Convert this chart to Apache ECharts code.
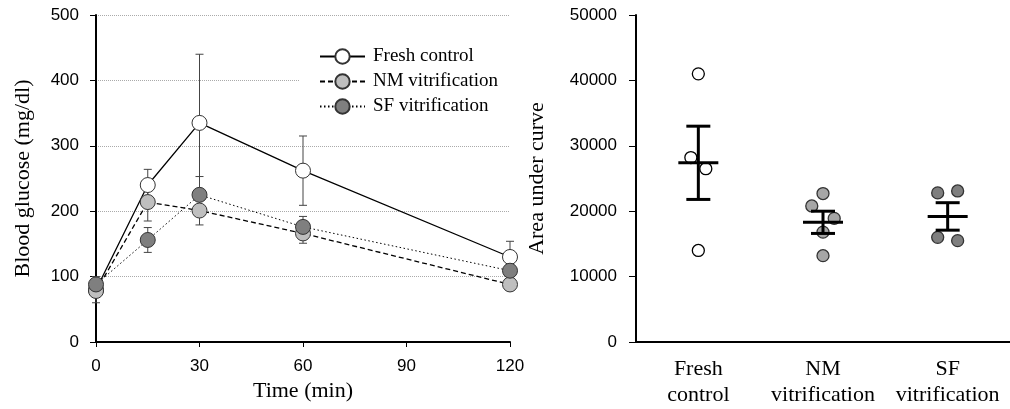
<!DOCTYPE html>
<html>
<head>
<meta charset="utf-8">
<script src="https://cdn.jsdelivr.net/npm/echarts@6/dist/echarts.min.js"></script>
<style>
  html, body { margin: 0; padding: 0; background: #fff; }
  #main { width: 1010px; height: 409px; }
</style>
</head>
<body>
<div id="main"></div>
<script>
// 左图: 血糖曲线
const times = [0, 15, 30, 60, 120];
const freshMean = [80, 240, 335, 262, 130];
const freshErr = [20, 24, 105, 53, 24];
const nmMean = [78, 214, 201, 166, 88];
const nmErr = [8, 29, 22, 15, 6];
const sfMean = [88, 156, 225, 176, 109];
const sfErr = [8, 19, 28, 16, 8];
const seriesNames = ['Fresh control', 'NM vitrification', 'SF vitrification'];

// 右图: 曲线下面积
const groups = ['Fresh\ncontrol', 'NM\nvitrification', 'SF\nvitrification'];
const freshAuc = [[0.5, 41000], [0.44, 28200], [0.56, 26500], [0.5, 14000]];
const nmAuc = [[1.5, 22700], [1.41, 20800], [1.59, 18900], [1.5, 16800], [1.5, 13200]];
const sfAuc = [[2.42, 22800], [2.58, 23100], [2.42, 16000], [2.58, 15500]];
const aucMean = [27400, 18300, 19200];
const aucSe = [5600, 1700, 2100];

const serif = '"Liberation Serif", "Times New Roman", serif';
const sans = '"Liberation Sans", Arial, sans-serif';

let myChart = echarts.init(document.getElementById('main'));

function errData(mean, err) {
    return times.map((t, i) => [t, mean[i] - err[i], mean[i] + err[i]]);
}

// 误差线
function renderErr(params, api) {
    let x = api.value(0);
    let lo = api.coord([x, api.value(1)]);
    let hi = api.coord([x, api.value(2)]);
    let w = 4;
    let style = { stroke: '#444', lineWidth: 1 };
    return {
        type: 'group',
        children: [
            { type: 'line', shape: { x1: lo[0], y1: lo[1], x2: hi[0], y2: hi[1] }, style: style },
            { type: 'line', shape: { x1: lo[0] - w, y1: lo[1], x2: lo[0] + w, y2: lo[1] }, style: style },
            { type: 'line', shape: { x1: hi[0] - w, y1: hi[1], x2: hi[0] + w, y2: hi[1] }, style: style }
        ]
    };
}

// 均值 ± SE
function renderMean(params, api) {
    let x = api.value(0);
    let m = api.coord([x, api.value(1)]);
    let lo = api.coord([x, api.value(1) - api.value(2)]);
    let hi = api.coord([x, api.value(1) + api.value(2)]);
    let style = { stroke: '#000', lineWidth: 3 };
    return {
        type: 'group',
        children: [
            { type: 'line', shape: { x1: m[0] - 20, y1: m[1], x2: m[0] + 20, y2: m[1] }, style: style },
            { type: 'line', shape: { x1: lo[0], y1: lo[1], x2: hi[0], y2: hi[1] }, style: style },
            { type: 'line', shape: { x1: lo[0] - 12, y1: lo[1], x2: lo[0] + 12, y2: lo[1] }, style: style },
            { type: 'line', shape: { x1: hi[0] - 12, y1: hi[1], x2: hi[0] + 12, y2: hi[1] }, style: style }
        ]
    };
}

function pts(mean) {
    return times.map((t, i) => [t, mean[i]]);
}

let option = {
    animation: false,
    backgroundColor: '#fff',
    legend: {
        left: 299,
        top: 45,
        orient: 'vertical',
        itemWidth: 45,
        itemHeight: 18,
        itemGap: 6,
        backgroundColor: '#fff',
        padding: [2, 30, 2, 20],
        textStyle: { fontFamily: serif, fontSize: 19, color: '#000', padding: [0, 0, 0, 3] },
        data: seriesNames
    },
    grid: [
        { left: 96, top: 15, width: 414, height: 327 },
        { left: 636, top: 15, width: 380, height: 327 }
    ],
    xAxis: [
        {
            gridIndex: 0,
            type: 'value',
            min: 0, max: 120, interval: 30,
            name: 'Time (min)',
            nameLocation: 'middle',
            nameGap: 34,
            nameTextStyle: { fontFamily: serif, fontSize: 22, color: '#000' },
            axisLine: { lineStyle: { color: '#000', width: 2 } },
            axisTick: { show: true, length: 5, lineStyle: { color: '#000', width: 1 } },
            axisLabel: { fontFamily: sans, fontSize: 17, color: '#000', margin: 16 },
            splitLine: { show: false }
        },
        {
            gridIndex: 1,
            type: 'category',
            data: groups,
            axisLine: { lineStyle: { color: '#000', width: 2 } },
            axisTick: { show: false },
            axisLabel: { interval: 0, fontFamily: serif, fontSize: 22, color: '#000', margin: 14, lineHeight: 26 }
        },
        {
            gridIndex: 1,
            type: 'value',
            min: 0, max: 3,
            show: false
        }
    ],
    yAxis: [
        {
            gridIndex: 0,
            type: 'value',
            min: 0, max: 500, interval: 100,
            name: 'Blood glucose (mg/dl)',
            nameLocation: 'middle',
            nameGap: 62,
            nameTextStyle: { fontFamily: serif, fontSize: 22, color: '#000' },
            axisLine: { show: true, lineStyle: { color: '#000', width: 2 } },
            axisTick: { show: true, length: 6, lineStyle: { color: '#000', width: 1 } },
            axisLabel: { fontFamily: sans, fontSize: 17, color: '#000', margin: 17 },
            splitLine: { show: true, lineStyle: { color: '#aaa', width: 1, type: 'dotted' } }
        },
        {
            gridIndex: 1,
            type: 'value',
            min: 0, max: 50000, interval: 10000,
            name: 'Area under curve',
            nameLocation: 'middle',
            nameGap: 88,
            nameTextStyle: { fontFamily: serif, fontSize: 22, color: '#000' },
            axisLine: { show: true, lineStyle: { color: '#000', width: 2 } },
            axisTick: { show: true, length: 7, lineStyle: { color: '#000', width: 1 } },
            axisLabel: {
                fontFamily: sans, fontSize: 17, color: '#000', margin: 19,
                formatter: function(value) {
                    return String(value);
                }
            },
            splitLine: { show: false }
        }
    ],
    series: [
        {
            type: 'custom', xAxisIndex: 0, yAxisIndex: 0, z: 1,
            renderItem: renderErr, data: errData(freshMean, freshErr)
        },
        {
            type: 'custom', xAxisIndex: 0, yAxisIndex: 0, z: 1,
            renderItem: renderErr, data: errData(nmMean, nmErr)
        },
        {
            type: 'custom', xAxisIndex: 0, yAxisIndex: 0, z: 1,
            renderItem: renderErr, data: errData(sfMean, sfErr)
        },
        {
            name: seriesNames[0],
            type: 'line', xAxisIndex: 0, yAxisIndex: 0, z: 3,
            data: pts(freshMean),
            symbol: 'circle', symbolSize: 15,
            lineStyle: { color: '#000', width: 1.3, type: 'solid' },
            itemStyle: { color: '#fff', borderColor: '#333', borderWidth: 1 }
        },
        {
            name: seriesNames[1],
            type: 'line', xAxisIndex: 0, yAxisIndex: 0, z: 3,
            data: pts(nmMean),
            symbol: 'circle', symbolSize: 15,
            lineStyle: { color: '#000', width: 1.3, type: [5, 3] },
            itemStyle: { color: '#bfbfbf', borderColor: '#333', borderWidth: 1 }
        },
        {
            name: seriesNames[2],
            type: 'line', xAxisIndex: 0, yAxisIndex: 0, z: 3,
            data: pts(sfMean),
            symbol: 'circle', symbolSize: 15,
            lineStyle: { color: '#000', width: 1, type: [1.5, 2.5] },
            itemStyle: { color: '#7f7f7f', borderColor: '#333', borderWidth: 1 }
        },
        {
            type: 'scatter', xAxisIndex: 2, yAxisIndex: 1, z: 2,
            data: freshAuc, symbolSize: 12,
            itemStyle: { color: '#fff', borderColor: '#000', borderWidth: 1.3, opacity: 1 }
        },
        {
            type: 'scatter', xAxisIndex: 2, yAxisIndex: 1, z: 2,
            data: nmAuc, symbolSize: 12,
            itemStyle: { color: '#a6a6a6', borderColor: '#333', borderWidth: 1.3, opacity: 1 }
        },
        {
            type: 'scatter', xAxisIndex: 2, yAxisIndex: 1, z: 2,
            data: sfAuc, symbolSize: 12,
            itemStyle: { color: '#7f7f7f', borderColor: '#333', borderWidth: 1.3, opacity: 1 }
        },
        {
            type: 'custom', xAxisIndex: 2, yAxisIndex: 1, z: 5,
            renderItem: renderMean,
            data: aucMean.map((m, i) => [i + 0.5, m, aucSe[i]])
        }
    ]
};

myChart.setOption(option);
</script>
</body>
</html>
